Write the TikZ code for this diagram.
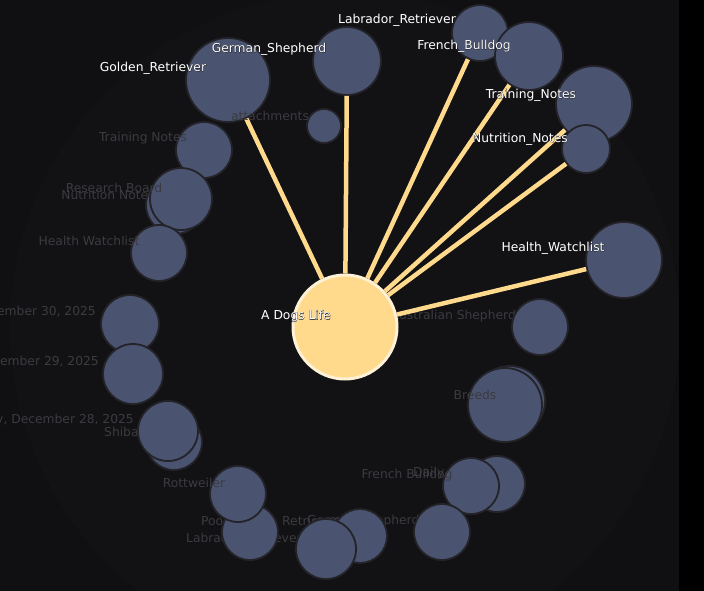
\documentclass[tikz,border=0pt]{standalone}
\usepackage{fontspec}
\setmainfont{DejaVu Sans}
\newfontfamily\haloface{DejaVu Sans}[FakeBold=3]
\usepackage{tikz}
\usepackage{xcolor}
\definecolor{canvasBg} {HTML}{101013}
\definecolor{haloBg}   {HTML}{121215}
\definecolor{edgeBlack}{HTML}{000000}
\definecolor{nodeBlue} {HTML}{4A5470}
\definecolor{nodeRim}  {HTML}{232329}
\definecolor{hubFill}  {HTML}{FFD98C}
\definecolor{hubRim}   {HTML}{FFF1D6}
\definecolor{linkGold} {HTML}{FFD98C}
\definecolor{dimText}  {HTML}{3B3B40}
\definecolor{tagRim}   {HTML}{1A1A20}
\newcommand{\rimmed}[1]{\rlap{\haloface\color{tagRim}#1}#1}

\begin{document}
\begin{tikzpicture}[x=1pt, y=-1pt,
    dot/.style={circle, fill=nodeBlue, draw=nodeRim, line width=1.8pt,
                inner sep=0pt, minimum size={2*#1pt}},
    hub/.style={circle, fill=hubFill, draw=hubRim, line width=3pt,
                inner sep=0pt, minimum size=104pt},
    link/.style={draw=linkGold, line width=4.5pt},
    tag/.style={font=\fontsize{12.3}{14}\selectfont, text=white, inner sep=0pt},
    dimtag/.style={font=\fontsize{12.3}{14}\selectfont, text=dimText, inner sep=0pt}]
  \clip (0,0) rectangle (704,591);
  \fill[canvasBg] (0,0) rectangle (704,591);
  \fill[haloBg] (345,327) circle (335pt);
  \fill[edgeBlack] (679,0) rectangle (704,591);

  % labels that sit under the circles
  \node[dimtag] (nNotes) at (108,195) {Nutrition Notes};
  \node[dimtag, anchor=west] (shiba) at (104,432) {Shiba Inu};
  \node[dimtag, anchor=west] (poodleT) at (201,521) {Poodle};
  \node[dimtag, anchor=west] (labraT) at (186,538) {Labrador Retriever};
  \node[dimtag, anchor=west] (retrT) at (282,521) {Retriever};
  \node[dimtag, anchor=west] (gshepT) at (307,521) {German Shepherd};
  \node[dimtag, anchor=west] (dailyT) at (413,473) {Daily};
  \node[dimtag, anchor=east] (ausT) at (516,316) {Australian Shepherd};

  % loose nodes
  \node[dot=29] (d30) at (130,324) {};
  \node[dot=30] (d29) at (133,374) {};
  \node[dot=28] (shibaB) at (174,442) {};
  \node[dot=30] (d28) at (168,431) {};
  \node[dot=28] (poodle) at (250,532) {};
  \node[dot=28] (rott) at (238,494) {};
  \node[dot=27] (gshep) at (360,536) {};
  \node[dot=30] (retr) at (326,549) {};
  \node[dot=28] (daily) at (497,484) {};
  \node[dot=28] (fbull) at (471,486) {};
  \node[dot=28] (labra) at (442,532) {};
  \node[dot=28] (aus) at (540,327) {};
  \node[dot=35] (breedsB) at (510,401) {};
  \node[dot=37] (breeds) at (505,405) {};
  \node[dot=17] (attach) at (324,126) {};
  \node[dot=28] (tNotes) at (204,150) {};
  \node[dot=29] (rBoardB) at (175,205) {};
  \node[dot=31] (rBoard) at (181,199) {};
  \node[dot=28] (hWatch) at (159,253) {};

  % linked nodes
  \node[dot=42] (golden) at (228,80) {};
  \node[dot=34] (german) at (347,61) {};
  \node[dot=28] (labrador) at (480,33) {};
  \node[dot=34] (french) at (529,56) {};
  \node[dot=38] (training) at (594,104) {};
  \node[dot=24] (nutrition) at (586,149) {};
  \node[dot=38] (health) at (624,260) {};

  \node[hub] (life) at (345,327) {};
  \foreach \t in {golden, german, labrador, french, training, nutrition, health}
    \draw[link] (life) -- (\t);

  % labels on top
  \node[dimtag] (attachT) at (270,116) {attachments};
  \node[dimtag] (tNotesT) at (143,138) {Training Notes};
  \node[dimtag] (rBoardT) at (114,188) {Research Board};
  \node[dimtag] (hWatchT) at (89,241) {Health Watchlist};
  \node[dimtag, anchor=east] (day30) at (96,312) {Tuesday, December 30, 2025};
  \node[dimtag, anchor=east] (day29) at (99,362) {Monday, December 29, 2025};
  \node[dimtag, anchor=east] (day28) at (134,420) {Sunday, December 28, 2025};
  \node[dimtag] (rottT) at (194,483) {Rottweiler};
  \node[dimtag] (breedsT) at (475,395) {Breeds};
  \node[dimtag] (fbullT) at (407,475) {French Bulldog};

  \node[tag] (lifeT) at (296,316) {\rimmed{A Dogs Life}};
  \node[tag] (goldenT) at (153,68) {\rimmed{Golden\_Retriever}};
  \node[tag] (germanT) at (269,49) {\rimmed{German\_Shepherd}};
  \node[tag] (labradorT) at (397,20) {\rimmed{Labrador\_Retriever}};
  \node[tag] (frenchT) at (464,46) {\rimmed{French\_Bulldog}};
  \node[tag] (trainingT) at (531,95) {\rimmed{Training\_Notes}};
  \node[tag] (nutritionT) at (520,139) {\rimmed{Nutrition\_Notes}};
  \node[tag] (healthT) at (553,248) {\rimmed{Health\_Watchlist}};
\end{tikzpicture}
\end{document}
